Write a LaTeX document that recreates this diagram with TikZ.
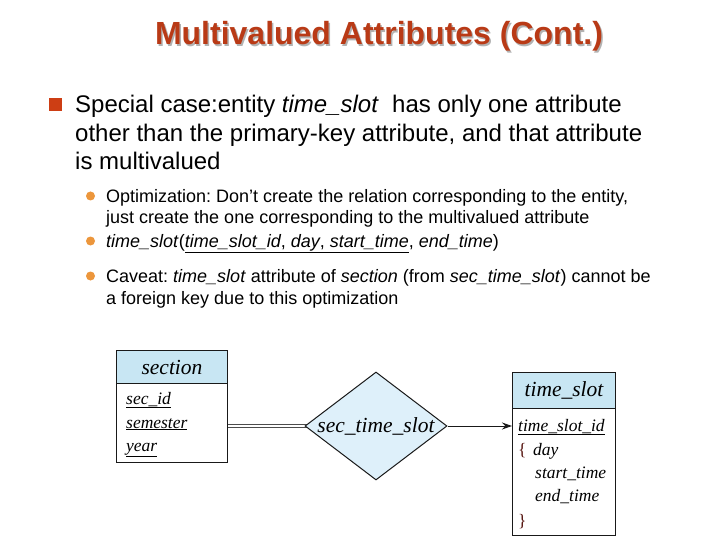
\documentclass[tikz,border=0pt]{standalone}
\usepackage{fontspec}
\setmainfont{Liberation Sans}
\newfontfamily\erfont{Liberation Serif}
\usetikzlibrary{shapes.geometric,arrows.meta}
\pgfdeclarelayer{background}
\pgfsetlayers{background,main}
\frenchspacing
\definecolor{titlered}{RGB}{185,58,22}
\definecolor{sqbullet}{RGB}{205,62,20}
\definecolor{dotbullet}{RGB}{236,150,60}
\definecolor{hdrblue}{RGB}{200,230,243}
\definecolor{relblue}{RGB}{222,240,250}
\definecolor{bracered}{RGB}{85,20,15}
\tikzset{
  titletext/.style={font=\bfseries\fontsize{32}{36}\selectfont, anchor=center, inner sep=0pt},
  mainline/.style={font=\fontsize{24}{28}\selectfont, anchor=base west, inner sep=0pt},
  subline/.style={font=\fontsize{18}{21}\selectfont, anchor=base west, inner sep=0pt},
  sqb/.style={fill=sqbullet, minimum size=13pt, inner sep=0pt, draw=none},
  dotb/.style={circle, fill=dotbullet, minimum size=9pt, inner sep=0pt, draw=none},
  entityhead/.style={draw=black!90, line width=1pt, fill=hdrblue, inner sep=0pt, anchor=north west, font=\erfont\itshape\fontsize{21.5}{24}\selectfont},
  entitybody/.style={draw=black!90, line width=1pt, fill=white, inner sep=0pt, anchor=north west},
  attr/.style={font=\erfont\itshape\fontsize{17.5}{20}\selectfont, anchor=base west, inner sep=0pt},
  brace/.style={font=\erfont\fontsize{17.5}{20}\selectfont, anchor=base west, inner sep=0pt, text=bracered},
  relship/.style={diamond, draw=black!90, line width=1pt, fill=relblue, inner sep=0pt, shape aspect=1.31, minimum width=142pt, minimum height=108pt, font=\erfont\itshape\fontsize{21.5}{24}\selectfont},
  dblline/.style={line width=1.1pt, draw=black!70}
}
\begin{document}
\begin{tikzpicture}[x=1pt,y=-1pt]
\useasboundingbox (0,0) rectangle (720,540);
% title
\node[titletext, text=black!30] (titleshadow) at (380.5,38) {Multivalued Attributes (Cont.)};
\node[titletext, text=titlered] (title) at (379,36.5) {Multivalued Attributes (Cont.)};
% main bullet
\node[sqb] (b1) at (55.5,104.5) {};
\node[mainline] (l1) at (75,113) {Special case:entity \textit{time\_slot}\ \ has only one attribute};
\node[mainline] (l2) at (75,141.5) {other than the primary-key attribute, and that attribute};
\node[mainline] (l3) at (75,170) {is multivalued};
% sub bullets
\node[dotb] (d1) at (90.5,196) {};
\node[subline] (s1) at (106,202.5) {Optimization: Don’t create the relation corresponding to the entity,};
\node[subline] (s2) at (106,224) {just create the one corresponding to the multivalued attribute};
\node[dotb] (d2) at (90.5,241) {};
\node[subline] (s3) at (106,247.5) {\textit{time\_slot}(\underline{\textit{time\_slot\_id}, \textit{day}, \textit{start\_time}}, \textit{end\_time})};
\node[dotb] (d3) at (90.5,276) {};
\node[subline] (s4) at (106,282.5) {Caveat: \textit{time\_slot} attribute of \textit{section} (from \textit{sec\_time\_slot}) cannot be};
\node[subline] (s5) at (106,304) {a foreign key due to this optimization};
% section entity
\node[entityhead, minimum width=111pt, minimum height=33pt] (sechead) at (116,350) {section};
\node[entitybody, minimum width=111pt, minimum height=79pt] (secbody) at (116,383) {};
\node[attr] (a1) at (126,404) {\underline{sec\_id}};
\node[attr] (a2) at (126,428) {\underline{semester}};
\node[attr] (a3) at (126,451) {\underline{year}};
% relationship
\node[relship] (rel) at (376,426) {sec\_time\_slot};
% time_slot entity
\node[entityhead, minimum width=103pt, minimum height=36pt] (tshead) at (512,372) {time\_slot};
\node[entitybody, minimum width=103pt, minimum height=127pt] (tsbody) at (512,408) {};
\node[attr] (t1) at (518,431) {\underline{time\_slot\_id}};
\node[brace] (br1) at (518,455) {\{};
\node[attr] (t2) at (533,455) {day};
\node[attr] (t3) at (535,478) {start\_time};
\node[attr] (t4) at (535,501) {end\_time};
\node[brace] (br2) at (518,526) {\}};
% connectors
\begin{pgfonlayer}{background}
\draw[dblline] ([yshift=1.8pt]secbody.east |- rel.west) -- ([yshift=1.8pt]rel.center);
\draw[dblline] ([yshift=-1.8pt]secbody.east |- rel.west) -- ([yshift=-1.8pt]rel.center);
\end{pgfonlayer}
\draw[-{Stealth[length=10pt,width=7pt]}, line width=1pt, draw=black!90] (rel.east) -- (tsbody.west |- rel.east);
\end{tikzpicture}
\end{document}
